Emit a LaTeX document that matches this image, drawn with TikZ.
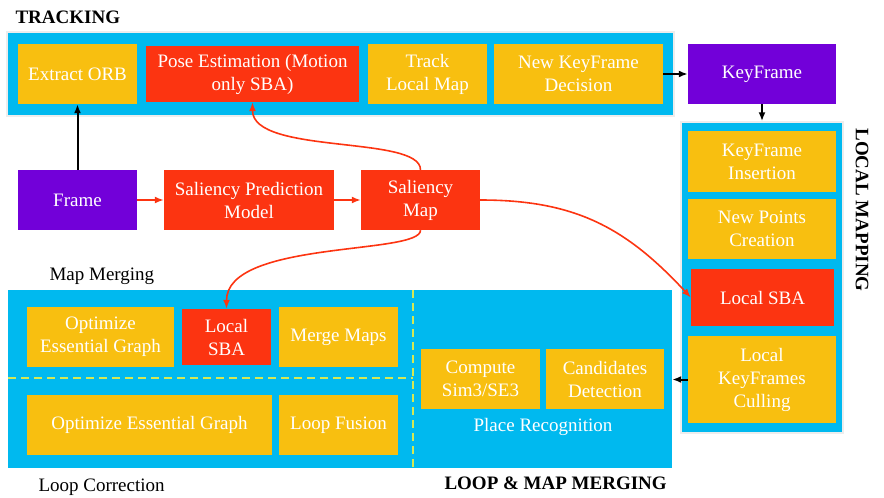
\documentclass[tikz,border=0pt]{standalone}
\usepackage{fontspec}
\setmainfont{LiberationSerif}[Extension=.ttf, UprightFont=*-Regular, BoldFont=*-Bold, ItalicFont=*-Italic, BoldItalicFont=*-BoldItalic]
\usetikzlibrary{arrows.meta}
\definecolor{skyblue}{RGB}{0,185,239}
\definecolor{amber}{RGB}{248,191,16}
\definecolor{flame}{RGB}{252,52,17}
\definecolor{violet}{RGB}{114,0,217}
\definecolor{lime}{RGB}{212,232,84}
\tikzset{
    area/.style={fill=skyblue, inner sep=0pt},
    stage/.style={fill=amber, text=white, align=center, inner sep=0pt},
    hot/.style={stage, fill=flame},
    frm/.style={stage, fill=violet},
    title/.style={font=\fontsize{19}{23}\selectfont\bfseries},
    redflow/.style={-{Latex[length=9pt, width=7pt]}, flame, line width=1.6pt},
    blackflow/.style={-{Latex[length=9pt, width=7pt]}, line width=2pt}
}
\begin{document}
\begin{tikzpicture}[x=1pt, y=-1pt, font=\fontsize{19}{23}\selectfont]
        \useasboundingbox (0,0) rectangle (884,498);

        \node[area, draw=black!7, line width=1.5pt, minimum width=667, minimum height=84] (trk) at (340.5,74) {};
        \node[area, draw=black!7, line width=1.5pt, minimum width=162, minimum height=311] (lmap) at (762,277.5) {};
        \node[area, minimum width=664, minimum height=178] (merge) at (340,379) {};

        \node[title, anchor=base west] (trktitle) at (12,23) {TRACKING};
        \node[title, rotate=-90] (lmtitle) at (862,210) {LOCAL MAPPING};
        \node[title, anchor=base west] (mgtitle) at (441,489) {LOOP \& MAP MERGING};
        \node[anchor=base west] (mmlabel) at (46,280) {Map Merging};
        \node[anchor=base west] (lclabel) at (35,491) {Loop Correction};
        \node[text=white] (prlabel) at (543,427) {Place Recognition};

        \draw[lime, line width=1.2pt, dash pattern=on 8pt off 5pt] (413,290) -- (413,470);
        \draw[lime, line width=1.2pt, dash pattern=on 8pt off 5pt] (8,378) -- (413,378);

        \node[stage, minimum width=119, minimum height=60] (orb) at (77.5,74) {Extract ORB};
        \node[hot, minimum width=213, minimum height=56] (pose) at (252.5,74) {Pose Estimation (Motion\\only SBA)};
        \node[stage, minimum width=119, minimum height=60] (track) at (427.5,74) {Track\\Local Map};
        \node[stage, minimum width=169, minimum height=60] (decide) at (578.5,74) {New KeyFrame\\Decision};
        \node[frm, minimum width=148, minimum height=60] (kf) at (762,74) {KeyFrame};

        \node[stage, minimum width=148, minimum height=61] (insert) at (762,161.5) {KeyFrame\\Insertion};
        \node[stage, minimum width=148, minimum height=60] (points) at (762,229) {New Points\\Creation};
        \node[hot, minimum width=143, minimum height=57] (lsba) at (762.5,297.5) {Local SBA};
        \node[stage, minimum width=148, minimum height=87] (cull) at (762,379.5) {Local\\KeyFrames\\Culling};

        \node[frm, minimum width=119, minimum height=60] (frame) at (77.5,200) {Frame};
        \node[hot, minimum width=170, minimum height=60] (model) at (249,200) {Saliency Prediction\\Model};
        \node[hot, minimum width=119, minimum height=60] (smap) at (420.5,200) {Saliency\\Map};

        \node[stage, minimum width=147, minimum height=60] (essA) at (100.5,337) {Optimize\\Essential Graph};
        \node[hot, minimum width=89, minimum height=56] (msba) at (226.5,337) {Local\\SBA};
        \node[stage, minimum width=119, minimum height=60] (mmaps) at (338.5,337) {Merge Maps};
        \node[stage, minimum width=245, minimum height=60] (essB) at (149.5,425) {Optimize Essential Graph};
        \node[stage, minimum width=119, minimum height=60] (fusion) at (338.5,425) {Loop Fusion};
        \node[stage, minimum width=119, minimum height=60] (sim) at (480.5,379) {Compute\\Sim3/SE3};
        \node[stage, minimum width=118, minimum height=60] (cand) at (605,379) {Candidates\\Detection};

        \draw[blackflow] (frame) -- (orb);
        \draw[blackflow] (decide) -- (kf);
        \draw[blackflow] (kf) -- (lmap.north);
        \draw[blackflow] (cull.west) -- (merge.east |- cull.west);

        \draw[redflow] (frame) -- (model);
        \draw[redflow] (model) -- (smap);
        \draw[redflow] (smap.north) .. controls +(0,-35) and +(0,53) .. (pose.south);
        \draw[redflow] (smap.south) .. controls +(0,25) and +(0,-69) .. (msba.north);
        \draw[redflow] (smap.east) .. controls +(95,0) and +(-65,-70) .. (lsba.west);

    \end{tikzpicture}
\end{document}
